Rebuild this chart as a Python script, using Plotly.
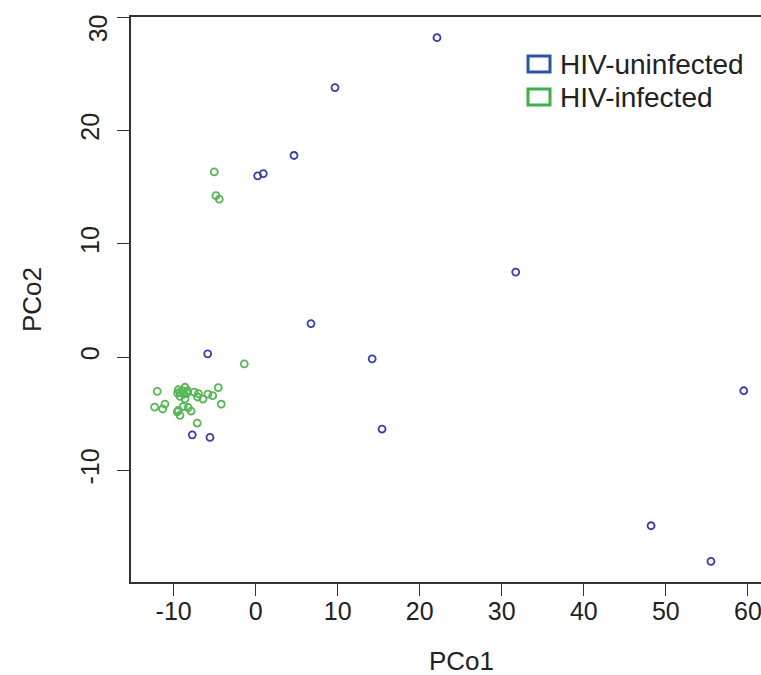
import plotly.graph_objects as go

# ---- data ----
uninf_x = [22.1, 9.67, 4.67, 0.24, 0.93, 31.7, 6.74, -5.85, 14.2, 15.4, -7.73, -5.57, 59.5, 48.2, 55.5]
uninf_y = [28.2, 23.8, 17.8, 16.0, 16.2, 7.5, 2.95, 0.28, -0.16, -6.36, -6.87, -7.1, -2.98, -14.9, -18.05]

inf_x = [-5.05, -4.84, -4.44, -1.39,
         -12.0, -12.32, -11.06, -11.34, -8.62, -9.44, -9.51, -9.23, -8.95, -8.71,
         -8.38, -8.29, -9.23, -8.62, -7.49, -6.98, -7.10, -6.43, -5.82, -5.24,
         -4.56, -4.20, -9.44, -9.56, -9.23, -8.83, -8.22, -7.87, -7.13]
inf_y = [16.35, 14.25, 13.94, -0.6,
         -3.03, -4.42, -4.16, -4.59, -2.67, -2.89, -3.19, -3.10, -2.98, -3.27,
         -3.19, -2.98, -3.47, -3.69, -3.10, -3.23, -3.53, -3.71, -3.27, -3.41,
         -2.70, -4.17, -4.72, -4.84, -5.15, -4.37, -4.46, -4.77, -5.83]

x_ticks = [-10, 0, 10, 20, 30, 40, 50, 60]
y_ticks = [-10, 0, 10, 20, 30]
legend_labels = ["HIV-uninfected", "HIV-infected"]
x_title = "PCo1"
y_title = "PCo2"

BLUE_PT = "#3a3ea6"
GREEN_PT = "#58b656"
BLUE_LEG = "#2a55a3"
GREEN_LEG = "#3fb04b"
AX = "#333333"
TXT = "#222222"
FONT = "Liberation Sans, Arial, Helvetica, sans-serif"

W, H = 761, 675
ML, MR, MT, MB = 131, 0, 17, 93
PW, PH = W - ML - MR, H - MT - MB


def px(x):
    return (x - ML) / PW


def py(y):
    return (H - MB - y) / PH


fig = go.Figure()
fig.add_trace(go.Scatter(x=uninf_x, y=uninf_y, mode="markers", name=legend_labels[0],
                         showlegend=False, cliponaxis=False,
                         marker=dict(symbol="circle-open", size=7, color=BLUE_PT,
                                     line=dict(width=1.8, color=BLUE_PT))))
fig.add_trace(go.Scatter(x=inf_x, y=inf_y, mode="markers", name=legend_labels[1],
                         showlegend=False, cliponaxis=False,
                         marker=dict(symbol="circle-open", size=7, color=GREEN_PT,
                                     line=dict(width=1.8, color=GREEN_PT))))

axis_common = dict(showgrid=False, zeroline=False, showline=True, linecolor=AX, linewidth=1.5,
                   ticks="outside", ticklen=12, tickwidth=1.3, tickcolor=AX,
                   ticklabeloverflow="allow",
                   tickfont=dict(family=FONT, size=25, color=TXT))

fig.update_xaxes(range=[-15.2, 61.6], tickvals=x_ticks, ticktext=[str(v) for v in x_ticks],
                 mirror=True, ticklabelstandoff=-6, **axis_common)
# the top label (30) sits slightly below its tick in the reference -> drawn as annotation
y_ticktext = [str(v) if v != y_ticks[-1] else "" for v in y_ticks]
fig.update_yaxes(range=[-19.87, 30.03], tickvals=y_ticks, ticktext=y_ticktext,
                 tickangle=-90, ticklabelstandoff=8, **axis_common)

shapes = []
annotations = []
annotations.append(dict(xref="paper", yref="y", x=px(98), y=y_ticks[-1], yshift=-11,
                        xanchor="center", yanchor="middle", showarrow=False,
                        text=str(y_ticks[-1]), textangle=-90,
                        font=dict(family=FONT, size=25, color=TXT)))

# legend built from shapes + text
leg = [(legend_labels[0], BLUE_LEG, 55, 73), (legend_labels[1], GREEN_LEG, 88, 106)]
for label, col, y0, y1 in leg:
    shapes.append(dict(type="rect", xref="paper", yref="paper",
                       x0=px(528), x1=px(550), y0=py(y1 - 1), y1=py(y0 + 1),
                       line=dict(color=col, width=3), fillcolor="rgba(0,0,0,0)"))
    annotations.append(dict(xref="paper", yref="paper", x=px(558), y=py((y0 + y1) / 2),
                            xanchor="left", yanchor="middle", showarrow=False, text=label,
                            font=dict(family=FONT, size=28, color=TXT)))

annotations.append(dict(xref="paper", yref="paper", x=px(461), y=py(661),
                        xanchor="center", yanchor="middle", showarrow=False, text=x_title,
                        font=dict(family=FONT, size=26, color=TXT)))
annotations.append(dict(xref="paper", yref="paper", x=px(32), y=py(300),
                        xanchor="center", yanchor="middle", showarrow=False, text=y_title,
                        textangle=-90, font=dict(family=FONT, size=26, color=TXT)))

fig.update_layout(width=W, height=H, margin=dict(l=ML, r=MR, t=MT, b=MB, pad=0),
                  plot_bgcolor="white", paper_bgcolor="white", showlegend=False,
                  shapes=shapes, annotations=annotations)

fig.write_html("out.html",
               config={"displayModeBar": False, "responsive": False},
               post_script="document.body.style.margin='0';document.body.style.overflow='hidden';")
